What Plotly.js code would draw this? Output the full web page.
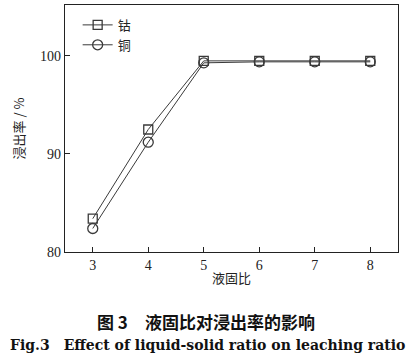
<!DOCTYPE html>
<html><head><meta charset="utf-8">
<script src="https://cdn.plot.ly/plotly-3.0.1.min.js"></script>
<style>html,body{margin:0;padding:0;background:#fff}</style>
</head><body><div id="c" style="width:414px;height:358px"></div>
<script>
const ratios = [3, 4, 5, 6, 7, 8];
const cobalt = [83.4, 92.5, 99.5, 99.5, 99.5, 99.5];
const copper = [82.4, 91.2, 99.3, 99.4, 99.4, 99.4];
const seriesNames = ['钴', '铜'];
const yTicks = [80, 90, 100];

const lineColor = '#3a3a3a';
const traces = [
  {x: ratios, y: cobalt, name: seriesNames[0], mode: 'lines+markers', type: 'scatter',
   line: {color: lineColor, width: 1},
   marker: {symbol: 'square-open', size: 9, color: lineColor, line: {width: 1.3}}},
  {x: ratios, y: copper, name: seriesNames[1], mode: 'lines+markers', type: 'scatter',
   line: {color: lineColor, width: 1},
   marker: {symbol: 'circle-open', size: 10, color: lineColor, line: {width: 1.3}}}
];
const serif = 'Liberation Serif, Times New Roman, serif';
const cjk = 'Noto Sans CJK SC, sans-serif';
const layout = {
  width: 414, height: 358,
  margin: {l: 65, r: 16, t: 5, b: 106},
  paper_bgcolor: '#fff', plot_bgcolor: '#fff',
  showlegend: true,
  legend: {x: 0.038, y: 0.98, xanchor: 'left', yanchor: 'top', bgcolor: 'rgba(0,0,0,0)',
    font: {family: cjk, size: 13, color: '#222'}, itemwidth: 30, tracegroupgap: 0},
  xaxis: {range: [2.5, 8.5], tickvals: ratios, ticks: 'inside', ticklen: 5, tickcolor: '#222',
    showline: true, linecolor: '#222', linewidth: 1.2, mirror: true, showgrid: false, zeroline: false,
    tickfont: {family: serif, size: 14, color: '#222'},
    title: {text: '液固比', font: {family: cjk, size: 13, color: '#222'}, standoff: 1}},
  yaxis: {range: [80, 105.2], tickvals: yTicks, ticks: 'inside', ticklen: 5, tickcolor: '#222',
    showline: true, linecolor: '#222', linewidth: 1.2, mirror: true, showgrid: false, zeroline: false,
    tickfont: {family: serif, size: 14, color: '#222'},
    title: {text: '浸出率 / %', font: {family: cjk, size: 13, color: '#222'}, standoff: 12}},
  annotations: [
    {text: '<b>图 3　液固比对浸出率的影响</b>', xref: 'paper', yref: 'paper', x: 0.5, y: -0.283, xanchor: 'center', yanchor: 'middle',
     showarrow: false, font: {family: cjk, size: 17, color: '#111'}, xshift: -26},
    {text: '<b>Fig.3　Effect of liquid-solid ratio on leaching ratio</b>', xref: 'paper', yref: 'paper', x: 0.5, y: -0.376,
     xanchor: 'center', yanchor: 'middle', showarrow: false, font: {family: 'DejaVu Serif, serif', size: 14, color: '#111'}, xshift: -24}
  ]
};
Plotly.newPlot('c', traces, layout, {displayModeBar: false, staticPlot: true});
</script></body></html>
